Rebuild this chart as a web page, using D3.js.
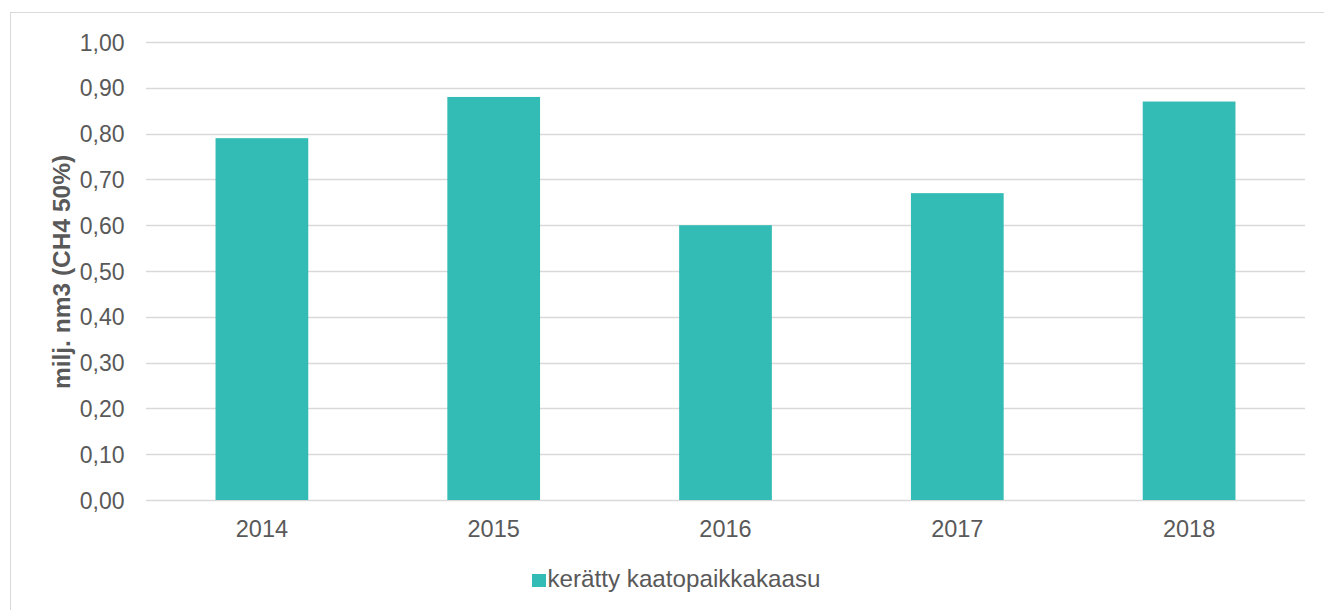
<!DOCTYPE html>
<html>
<head>
<meta charset="utf-8">
<script src="https://cdn.jsdelivr.net/npm/d3@7"></script>
<style>
  body { margin: 0; background: #fff; }
  svg text { font-family: "Liberation Sans", Arial, sans-serif; fill: #595959; }
</style>
</head>
<body>
<svg id="chart" width="1324" height="610"></svg>
<script>
const years = ["2014", "2015", "2016", "2017", "2018"];
const values = [0.79, 0.88, 0.60, 0.67, 0.87];
const yTicks = [0, 0.1, 0.2, 0.3, 0.4, 0.5, 0.6, 0.7, 0.8, 0.9, 1.0];
const seriesName = "kerätty kaatopaikkakaasu";
const yTitle = "milj. nm3 (CH4 50%)";

const svg = d3.select("svg#chart");
const barColor = "#33BBB5";
const fontSize = "23px";

// chart frame
svg.append("rect")
  .attr("x", 10.5).attr("y", 12.5)
  .attr("width", 1330).attr("height", 620)
  .attr("fill", "none").attr("stroke", "#D9D9D9").attr("stroke-width", 1);

const plotLeft = 146, plotRight = 1305, plotTop = 42, plotBottom = 500;

const x = d3.scaleBand().domain(years).range([plotLeft, plotRight]).paddingInner(0.6).paddingOuter(0.3);
const y = d3.scaleLinear().domain([0, 1]).range([plotBottom, plotTop]);

// gridlines
svg.append("g")
  .selectAll("line")
  .data(yTicks)
  .enter().append("line")
    .attr("x1", plotLeft).attr("x2", plotRight)
    .attr("y1", d => Math.round(y(d)) + 0.5)
    .attr("y2", d => Math.round(y(d)) + 0.5)
    .attr("stroke", "#D9D9D9").attr("stroke-width", 1.5);

// bars
svg.append("g")
  .selectAll("rect")
  .data(years)
  .enter().append("rect")
    .attr("x", d => x(d))
    .attr("width", x.bandwidth())
    .attr("y", (d, i) => y(values[i]))
    .attr("height", (d, i) => y(0) - y(values[i]))
    .attr("fill", barColor);

// y tick labels
const fmt = v => v.toFixed(2).replace(".", ",");
svg.append("g")
  .selectAll("text")
  .data(yTicks)
  .enter().append("text")
    .attr("x", 124.5)
    .attr("y", d => y(d) + 8.5)
    .attr("text-anchor", "end")
    .style("font-size", fontSize)
    .text(fmt);

// x labels
svg.append("g")
  .selectAll("text")
  .data(years)
  .enter().append("text")
    .attr("x", d => x(d) + x.bandwidth() / 2)
    .attr("y", 537)
    .attr("text-anchor", "middle")
    .style("font-size", "23.5px")
    .text(d => d);

// y title
svg.append("text")
  .attr("transform", "translate(70,272) rotate(-90)")
  .attr("text-anchor", "middle")
  .style("font-size", "24.5px")
  .style("font-weight", "bold")
  .text(yTitle);

// legend
const lg = svg.append("g").attr("transform", "translate(532,574)");
lg.append("rect").attr("width", 14).attr("height", 13).attr("fill", barColor);
lg.append("text").attr("x", 15.5).attr("y", 13).style("font-size", "24.2px").text(seriesName);
</script>
</body>
</html>
